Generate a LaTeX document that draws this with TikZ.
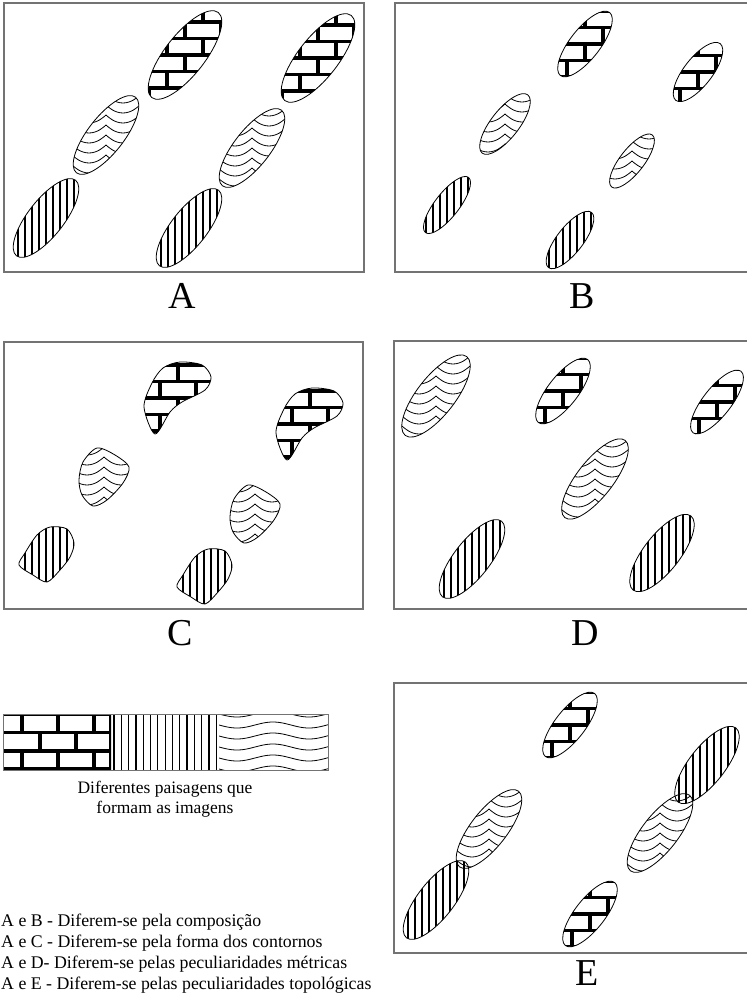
\documentclass[tikz,border=0pt]{standalone}
\usepackage{fontspec}
\setmainfont{Liberation Serif}
\usetikzlibrary{positioning}

% fills, drawn round the centre of a shape
\newcommand{\patbricks}{\foreach \yy [count=\i] in {-66,-49.5,...,66} {
  \draw[brk] (-70,\yy) -- (70,\yy);
  \pgfmathsetmacro\off{mod(\i,2)*18}
  \foreach \xx in {-90,-54,...,90} \draw[brk] (\xx+\off,\yy) -- (\xx+\off,\yy+16.5);}}
\newcommand{\patstripes}{\foreach \xx in {-70,-63,...,70} \draw[vln] (\xx,-70) -- (\xx,70);}
\newcommand{\patwaves}{\foreach \yy in {-70,-60,...,70} \foreach \xx in {-102,-68,...,68}
  \draw[wln] (\xx,\yy) parabola bend (\xx+17,\yy+8) (\xx+34,\yy);}

% tilted ellipse: x, y, radius, radius, fill
\newcommand{\ellblob}[5]{\begin{scope}[shift={(#1,#2)}]
  \begin{scope} \clip[rotate=52] (0,0) ellipse (#3 and #4); \csname pat#5\endcsname \end{scope}
  \draw[outl, rotate=52] (0,0) ellipse (#3 and #4);
\end{scope}}
% free outline: x, y, points, fill
\newcommand{\freeblob}[4]{\begin{scope}[shift={(#1,#2)}]
  \begin{scope} \clip plot[smooth cycle] coordinates {#3}; \csname pat#4\endcsname \end{scope}
  \draw[outl] plot[smooth cycle] coordinates {#3};
\end{scope}}

\begin{document}
\begin{tikzpicture}[x=1pt, y=-1pt, frame/.style={draw=black!55, line width=1.3pt}, outl/.style={draw=black, line width=0.8pt}, brk/.style={line width=3.6pt}, vln/.style={line width=1.2pt}, wln/.style={line width=0.8pt}, lbl/.style={font=\fontsize{38}{40}\selectfont, inner sep=0pt}, txt/.style={font=\fontsize{17.8}{21}\selectfont, inner sep=0pt}, legtxt/.style={font=\fontsize{17.5}{20}\selectfont, inner sep=0pt}]
\useasboundingbox (0,0) rectangle (747,994);
% A
\draw[frame] (4,3) rectangle (364,272);
\ellblob{185}{55}{54}{20}{bricks} \ellblob{318}{58}{54}{20}{bricks}
\ellblob{106}{135}{48}{18}{waves} \ellblob{252}{148}{48}{18}{waves}
\ellblob{46}{218}{48}{18}{stripes} \ellblob{189}{228}{48}{18}{stripes}
\node[lbl, anchor=base] (la) at (182,308) {A};
% B
\draw[frame] (395,3) rectangle (752,272);
\ellblob{585}{44}{40}{15}{bricks} \ellblob{698}{72}{36}{14}{bricks}
\ellblob{505}{124}{37}{14}{waves} \ellblob{632}{161}{33}{12}{waves}
\ellblob{447}{205}{35}{12}{stripes} \ellblob{570}{240}{35}{13}{stripes}
\node[lbl, anchor=base] (lb) at (582,308) {B};
% C
\draw[frame] (4,342) rectangle (363,609);
\freeblob{178}{398}{(2,-36) (24,-33) (33,-21) (27,-8) (4,4) (-8,14) (-23,36) (-34,9) (-26,-15) (-15,-30)}{bricks}
\freeblob{310}{424}{(2,-36) (24,-33) (33,-21) (27,-8) (4,4) (-8,14) (-23,36) (-34,9) (-26,-15) (-15,-30)}{bricks}
\freeblob{104}{477}{(-7,-29) (11,-22) (25,-10) (19,6) (3,23) (-11,29) (-22,18) (-25,3) (-21,-15)}{waves}
\freeblob{255}{514}{(-7,-29) (11,-22) (25,-10) (19,6) (3,23) (-11,29) (-22,18) (-25,3) (-21,-15)}{waves}
\freeblob{46}{555}{(4,-28) (21,-26) (28,-12) (24,2) (14,15) (1,27) (-13,20) (-27,10) (-21,-2) (-9,-20)}{stripes}
\freeblob{204}{577}{(4,-28) (21,-26) (28,-12) (24,2) (14,15) (1,27) (-13,20) (-27,10) (-21,-2) (-9,-20)}{stripes}
\node[lbl, anchor=base] (lc) at (180,645) {C};
% D
\draw[frame] (394,341) rectangle (752,609);
\ellblob{436}{396}{50}{19}{waves} \ellblob{563}{391}{40}{15}{bricks}
\ellblob{717}{402}{39}{14}{bricks} \ellblob{595}{479}{49}{18}{waves}
\ellblob{472}{559}{48}{18}{stripes} \ellblob{662}{553}{47}{18}{stripes}
\node[lbl, anchor=base] (ld) at (585,645) {D};
% E
\draw[frame] (394,683) rectangle (752,953);
\ellblob{570}{725}{40}{15}{bricks} \ellblob{590}{914}{40}{15}{bricks}
\ellblob{489}{829}{48}{18}{waves} \ellblob{660}{833}{48}{18}{waves}
\ellblob{436}{900}{48}{18}{stripes} \ellblob{707}{765}{47}{18}{stripes}
\node[lbl, anchor=base] (le) at (587,985) {E};
% legend strip
\begin{scope}
\clip (3,714) rectangle (111,770);
\foreach \yy in {714,732.3,750.7,769} \draw[brk] (3,\yy) -- (111,\yy);
\foreach \xx in {22,58,94} {\draw[brk] (\xx,714) -- (\xx,732.3); \draw[brk] (\xx,750.7) -- (\xx,769);}
\foreach \xx in {40,76} \draw[brk] (\xx,732.3) -- (\xx,750.7);
\draw[brk] (111,714) -- (111,770);
\end{scope}
\foreach \xx in {114,121.3,...,218} \draw[vln] (\xx,714) -- (\xx,770);
\begin{scope}
\clip (219,714) rectangle (328,770);
\foreach \yy in {714,725,...,769} \draw[wln] plot[domain=219:328, samples=50, smooth] (\x, {\yy+3*sin(5*(\x-219))});
\end{scope}
\draw[frame, line width=0.8pt] (3,714) rectangle (328,770);
\node[legtxt, anchor=base] (leg1) at (165,793) {Diferentes paisagens que};
\node[legtxt, anchor=base] (leg2) at (165,813) {formam as imagens};
% differences
\node[txt, anchor=base west] (ab) at (1,926) {A e B - Diferem-se pela composição};
\node[txt, anchor=base west] (ac) at (1,947) {A e C - Diferem-se pela forma dos contornos};
\node[txt, anchor=base west] (ad) at (1,968) {A e D- Diferem-se pelas peculiaridades métricas};
\node[txt, anchor=base west] (ae) at (1,989) {A e E - Diferem-se pelas peculiaridades topológicas};
\end{tikzpicture}
\end{document}
